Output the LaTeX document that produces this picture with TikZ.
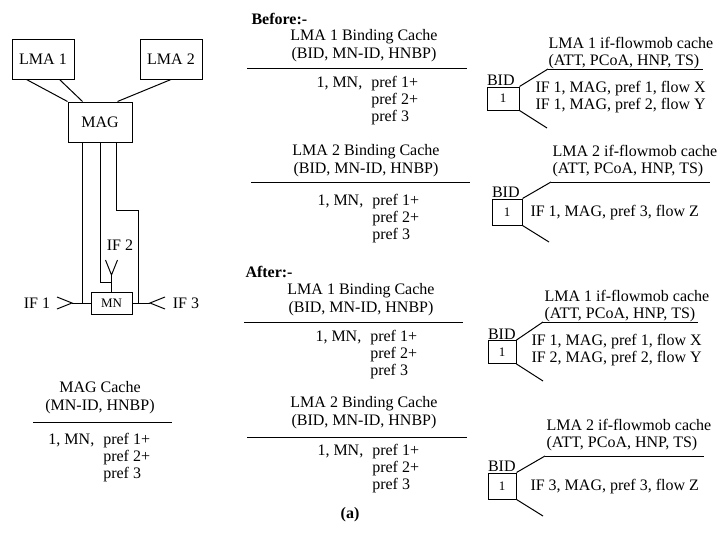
\documentclass[tikz,border=0pt]{standalone}
\usepackage{fontspec}
\setmainfont{Liberation Serif}
\usetikzlibrary{positioning,calc}
\newcommand{\bcrows}{1, MN,\hspace{9pt}pref 1+\\\phantom{1, MN,}\hspace{9pt}pref 2+\\\phantom{1, MN,}\hspace{9pt}pref 3}
\tikzset{
  entity/.style={draw, minimum width=62pt, minimum height=40pt, inner sep=0pt, font=\fontsize{16}{17}\selectfont},
  mnbox/.style={draw, minimum width=41pt, minimum height=22pt, inner sep=0pt, font=\fontsize{13}{14}\selectfont},
  bidbox/.style={draw, minimum width=30pt, minimum height=24pt, inner sep=0pt, font=\fontsize{13}{14}\selectfont},
  bidlabel/.style={inner sep=0pt, anchor=south west, font=\fontsize{16}{17}\selectfont},
  ctext/.style={inner sep=0pt, align=center, font=\fontsize{16}{18}\selectfont},
  ltext/.style={inner sep=0pt, align=left, anchor=west, font=\fontsize{16}{17}\selectfont},
  heading/.style={inner sep=0pt, anchor=west, font=\fontsize{16}{17}\selectfont\bfseries},
}
\begin{document}
\begin{tikzpicture}[x=1pt, y=-1pt, line width=1pt]
  \useasboundingbox (0,0) rectangle (724,538);
  % network
  \node[entity] (lma1) at (43,59) {LMA 1};
  \node[entity] (lma2) at (171,59) {LMA 2};
  \node[entity, minimum width=64pt] (mag) at (100,122) {MAG};
  \node[mnbox] (mn) at (111.5,303) {MN};
  \draw ([xshift=15pt]lma1.south west) -- (mag.north west);
  \draw ([xshift=-15pt]lma1.south east) -- ([xshift=15pt]mag.north west);
  \draw (lma2.south) -- ([xshift=-15pt]mag.north east);
  % interfaces
  \coordinate (if1tip) at (72,303);
  \coordinate (if2tip) at (111.5,275);
  \coordinate (if2join) at (111.5,282);
  \coordinate (if3tip) at (150,303);
  \node[ctext] (if1) at (37,303) {IF 1};
  \node[ctext] (if2) at (120,245) {IF 2};
  \node[ctext] (if3) at (186,303) {IF 3};
  \draw ([xshift=15pt]mag.south west) |- (mn.west);
  \draw (if1tip) -- (mn.west);
  \draw (if1tip) ++(-15,-6) -- (if1tip) -- ++(-15,6);
  \draw (mag.south) |- (if2join);
  \draw (if2tip) -- (mn.north);
  \draw (if2tip) ++(-6,-15) -- (if2tip) -- ++(6,-15);
  \draw ([xshift=-16pt]mag.south east) -- ++(0,68) -- ++(22,0) |- (mn.east);
  \draw (if3tip) -- (mn.east);
  \draw (if3tip) ++(15,-6) -- (if3tip) -- ++(15,6);
  % MAG cache
  \node[ctext] (magc) at (100,398) {MAG Cache\\(MN-ID, HNBP)};
  \draw ($(magc.south)+(-67,8)$) -- ++(139,0);
  \node[ltext] (magcr) at (48,458) {\bcrows};
  % before
  \node[heading] (before) at (251,19) {Before:-};
  \node[ctext] (bc1) at (364,46) {LMA 1 Binding Cache\\(BID, MN-ID, HNBP)};
  \draw (247,68) -- (467,68);
  \node[ltext] (bc1r) at (316,101) {\bcrows};
  \node[ctext] (bc2) at (366,161) {LMA 2 Binding Cache\\(BID, MN-ID, HNBP)};
  \draw (251,182) -- (470,182);
  \node[ltext] (bc2r) at (317,219) {\bcrows};
  \node[ltext] (fc1) at (548,53) {LMA 1 if-flowmob cache\\(ATT, PCoA, HNP, TS)};
  \coordinate (fc1u) at (548,69);
  \draw (fc1u) -- ++(155,0);
  \node[bidbox, minimum width=32pt, minimum height=23pt] (bid1) at (503,98.5) {1};
  \node[bidlabel] (bid1l) at (bid1.north west) {BID};
  \coordinate (fc1d) at (547,128);
  \draw (bid1.north east) -- (fc1u);
  \draw (bid1.south east) -- (fc1d);
  \node[ltext] (fc1r) at (535,97) {IF 1, MAG, pref 1, flow X\\IF 1, MAG, pref 2, flow Y};
  \node[ltext] (fc2) at (552,161) {LMA 2 if-flowmob cache\\(ATT, PCoA, HNP, TS)};
  \coordinate (fc2u) at (551,182);
  \draw (fc2u) -- ++(159,0);
  \node[bidbox, minimum height=26pt] (bid2) at (507,212) {1};
  \node[bidlabel] (bid2l) at (bid2.north west) {BID};
  \coordinate (fc2d) at (549,242);
  \draw (bid2.north east) -- (fc2u);
  \draw (bid2.south east) -- (fc2d);
  \node[ltext] (fc2r) at (530,213) {IF 1, MAG, pref 3, flow Z};
  % after
  \node[heading] (after) at (245,272) {After:-};
  \node[ctext] (ac1) at (361,300) {LMA 1 Binding Cache\\(BID, MN-ID, HNBP)};
  \draw (244,322) -- (463,322);
  \node[ltext] (ac1r) at (315,355) {\bcrows};
  \node[ctext] (ac2) at (364,413) {LMA 2 Binding Cache\\(BID, MN-ID, HNBP)};
  \draw (247,437) -- (467,437);
  \node[ltext] (ac2r) at (317,469) {\bcrows};
  \node[ltext] (fa1) at (544,306) {LMA 1 if-flowmob cache\\(ATT, PCoA, HNP, TS)};
  \coordinate (fa1u) at (543,322);
  \draw (fa1u) -- ++(155,0);
  \node[bidbox, minimum width=28pt, minimum height=23pt] (bid3) at (502,352) {1};
  \node[bidlabel] (bid3l) at (bid3.north west) {BID};
  \coordinate (fa1d) at (543,381);
  \draw (bid3.north east) -- (fa1u);
  \draw (bid3.south east) -- (fa1d);
  \node[ltext] (fa1r) at (531,350) {IF 1, MAG, pref 1, flow X\\IF 2, MAG, pref 2, flow Y};
  \node[ltext] (fa2) at (546,435) {LMA 2 if-flowmob cache\\(ATT, PCoA, HNP, TS)};
  \coordinate (fa2u) at (545,456);
  \draw (fa2u) -- ++(159,0);
  \node[bidbox, minimum width=28pt, minimum height=26pt] (bid4) at (502,486) {1};
  \node[bidlabel] (bid4l) at (bid4.north west) {BID};
  \coordinate (fa2d) at (543,516);
  \draw (bid4.north east) -- (fa2u);
  \draw (bid4.south east) -- (fa2d);
  \node[ltext] (fa2r) at (530,487) {IF 3, MAG, pref 3, flow Z};
  \node[ctext, font=\fontsize{16}{17}\selectfont\bfseries] (cap) at (350,515) {(a)};
\end{tikzpicture}
\end{document}
